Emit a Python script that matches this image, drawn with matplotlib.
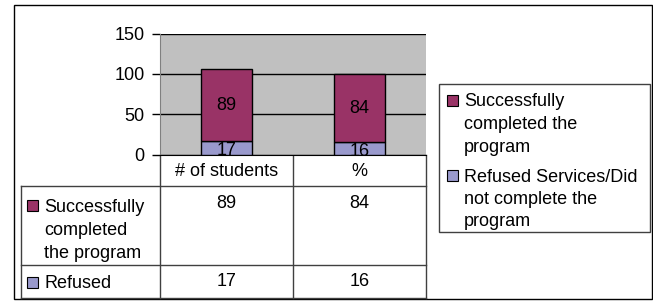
import matplotlib.pyplot as plt
from matplotlib.patches import Rectangle
from matplotlib.lines import Line2D

plt.rcParams["font.family"] = ["Liberation Sans", "DejaVu Sans"]
plt.rcParams["font.size"] = 13

categories = ["# of students", "%"]
completed = [89, 84]
refused = [17, 16]
legend_names = ["Successfully\ncompleted the\nprogram", "Refused Services/Did\nnot complete the\nprogram"]
row_names = ["Successfully\ncompleted\nthe program", "Refused"]

MAROON = "#993366"
LAVENDER = "#9999CC"

W, H = 653, 304
fig = plt.figure(figsize=(W / 100, H / 100), dpi=100)


def px(x0, y0, x1, y1):
    # pixel box (top-left origin) -> figure fraction rect
    return [x0 / W, 1 - y1 / H, (x1 - x0) / W, (y1 - y0) / H]


# overlay for borders, table and legend, in pixel coords
over = fig.add_axes([0, 0, 1, 1])
over.set_xlim(0, W)
over.set_ylim(H, 0)
over.axis("off")
over.add_patch(Rectangle((14, 5), 638, 294, fill=False, ec="black", lw=1))

ax = fig.add_axes(px(160, 33.5, 426, 155))
ax.set_facecolor("#C0C0C0")
x = range(len(categories))
b1 = ax.bar(x, refused, width=0.39, color=LAVENDER, edgecolor="black", linewidth=1, zorder=3)
b2 = ax.bar(x, completed, width=0.39, bottom=refused, color=MAROON, edgecolor="black", linewidth=1, zorder=3)
for t in ax.bar_label(b1, label_type="center", fontsize=13, padding=-2):
    t.set_clip_on(True)
ax.bar_label(b2, label_type="center", fontsize=13)
ax.set_xlim(-0.5, 1.5)
ax.set_ylim(0, 150)
ax.set_yticks([0, 50, 100, 150])
ax.tick_params(axis="y", labelsize=13, length=6, width=1, pad=5)
ax.set_xticks([])
ax.grid(axis="y", color="black", lw=1, zorder=0)
for s in ["top", "right"]:
    ax.spines[s].set_visible(False)
ax.spines["left"].set_color("#808080")
ax.spines["bottom"].set_color("black")

# table lines
col_x = [160, 293, 426]
row_y = [155, 186, 265, 298]
lc = "#404040"
for y in row_y[1:]:
    over.add_line(Line2D([21, 426], [y, y], color=lc, lw=1))
for xx in col_x:
    over.add_line(Line2D([xx, xx], [155, 298], color=lc, lw=1))
over.add_line(Line2D([21, 21], [186, 298], color=lc, lw=1))

for i, c in enumerate(categories):
    cx = (col_x[i] + col_x[i + 1]) / 2
    over.text(cx, 171, c, ha="center", va="center")
    over.text(cx, 203, str(completed[i]), ha="center", va="center")
    over.text(cx, 282, str(refused[i]), ha="center", va="center")

LINE = 23.5
row_first = [205, 282]
for name, color, cy in zip(row_names, [MAROON, LAVENDER], row_first):
    over.add_patch(Rectangle((27, cy - 5.5), 11, 11, fc=color, ec="black", lw=0.8))
    for k, line in enumerate(name.split("\n")):
        over.text(44, cy + k * LINE, line, ha="left", va="center_baseline")

# legend box
over.add_patch(Rectangle((439, 84), 211, 148, fill=False, ec="#404040", lw=1))
leg_first = [100, 175]
for name, color, cy in zip(legend_names, [MAROON, LAVENDER], leg_first):
    over.add_patch(Rectangle((447, cy - 5.5), 11, 11, fc=color, ec="black", lw=0.8))
    for k, line in enumerate(name.split("\n")):
        over.text(464, cy + k * 22.5, line, ha="left", va="center_baseline")

fig.savefig("out.png", dpi=100)
